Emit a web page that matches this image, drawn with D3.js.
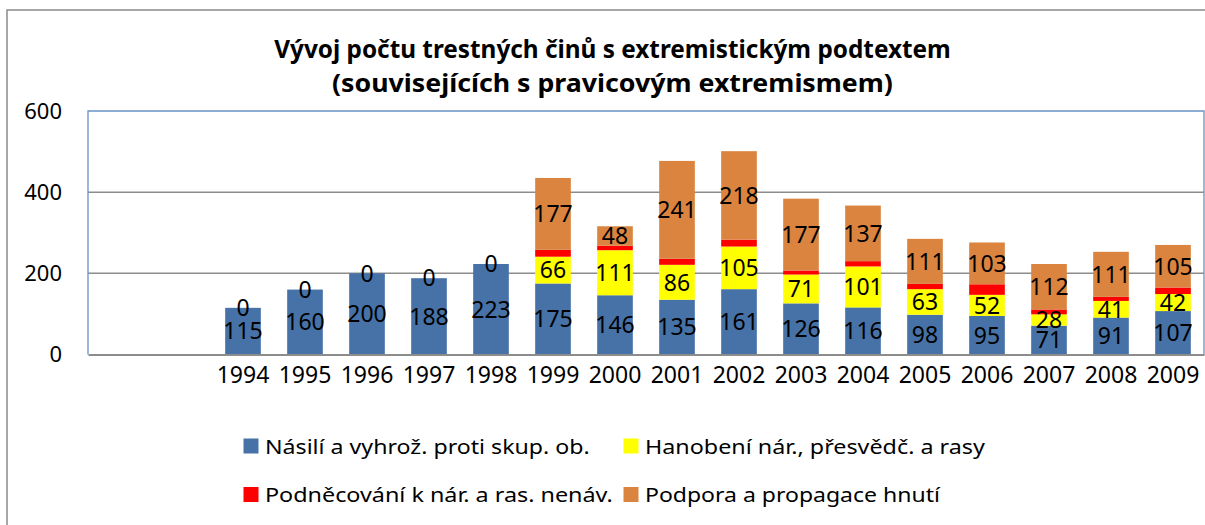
<!DOCTYPE html>
<html>
<head>
<meta charset="utf-8">
<script src="https://cdn.jsdelivr.net/npm/d3@7"></script>
<style>
  body { margin: 0; background: #fff; }
  text { font-family: "Noto Sans", "Open Sans", sans-serif; fill: #000; }
</style>
</head>
<body>
<div class="chart"></div>
<script>
// categories (two empty slots before 1994, as in the original)
const years = ["", "", "1994", "1995", "1996", "1997", "1998", "1999", "2000", "2001", "2002", "2003", "2004", "2005", "2006", "2007", "2008", "2009"]
// series values
const nasili = [null, null, 115, 160, 200, 188, 223, 175, 146, 135, 161, 126, 116, 98, 95, 71, 91, 107]
const hanobeni = [null, null, null, null, null, null, null, 66, 111, 86, 105, 71, 101, 63, 52, 28, 41, 42]
const podnecovani = [null, null, 0, 0, 0, 0, 0, 17, 11, 15, 17, 10, 13, 13, 26, 12, 10, 16]
const podpora = [null, null, 0, 0, 0, 0, 0, 177, 48, 241, 218, 177, 137, 111, 103, 112, 111, 105]
const yTicks = [0, 200, 400, 600]
const titleLines = ["Vývoj počtu trestných činů s extremistickým podtextem", "(souvisejících s pravicovým extremismem)"]

const series = [
  {key: "nasili", name: "Násilí a vyhrož. proti skup. ob.", values: nasili, color: "#4672a8", label: true},
  {key: "hanobeni", name: "Hanobení nár., přesvědč. a rasy", values: hanobeni, color: "#ffff00", label: true},
  {key: "podnecovani", name: "Podněcování k nár. a ras. nenáv.", values: podnecovani, color: "#ff0000", label: false},
  {key: "podpora", name: "Podpora a propagace hnutí", values: podpora, color: "#da8440", label: true}
]

var width = 1205, height = 525
var padding = {left: 88, right: 1, top: 111, bottom: 170.5}

var svg = d3.select(".chart").append("svg").attr("width", width).attr("height", height)

// squeeze a text horizontally so it spans the wanted width
function fitWidth(sel, widthOf) {
  sel.each(function(d, i) {
    let w = this.getComputedTextLength()
    let x = +this.getAttribute("x"), y = +this.getAttribute("y")
    let k = widthOf(d, i) / w
    d3.select(this).attr("transform", "translate(" + x + "," + y + ") scale(" + k + ",1) translate(" + (-x) + "," + (-y) + ")")
  })
}

// outer chart border
svg.append("rect")
  .attr("x", 7).attr("y", 10).attr("width", width).attr("height", height)
  .attr("fill", "none").attr("stroke", "#8a8a8a").attr("stroke-width", 1.5)

// title
svg.append("g").selectAll("text")
  .data(titleLines)
  .enter()
  .append("text")
  .attr("x", 612.5)
  .attr("y", function(d, i) { return 58 + i * 34 })
  .attr("text-anchor", "middle")
  .attr("font-size", 25)
  .attr("font-weight", "bold")
  .text(function(d) { return d })
  .call(fitWidth, function(d, i) { return i == 0 ? 677 : 561 })

var plotW = width - padding.left - padding.right
var plotH = height - padding.top - padding.bottom

var xScale = d3.scaleBand()
  .domain(d3.range(years.length))
  .range([0, plotW])
  .paddingInner(0.425)
  .paddingOuter(0.2125)

var yScale = d3.scaleLinear()
  .domain([0, 600])
  .range([plotH, 0])

var plot = svg.append("g")
  .attr("transform", "translate(" + padding.left + "," + padding.top + ")")

// gridlines
plot.append("g").selectAll("line")
  .data(yTicks.slice(1, -1))
  .enter()
  .append("line")
  .attr("x1", 0).attr("x2", plotW)
  .attr("y1", function(d) { return yScale(d) })
  .attr("y2", function(d) { return yScale(d) })
  .attr("stroke", "#8c8c8c").attr("stroke-width", 1.5)

// plot area border (left, top, right)
plot.append("path")
  .attr("d", "M0," + yScale(0) + "V" + yScale(600) + "H" + plotW + "V" + yScale(0))
  .attr("fill", "none").attr("stroke", "#6a92c6").attr("stroke-width", 1.3)

// y axis
var yAxis = plot.append("g")
  .call(d3.axisLeft(yScale).tickValues(yTicks).tickSize(0).tickPadding(26))
yAxis.select(".domain").remove()
yAxis.selectAll("text").attr("font-size", 22).attr("font-family", null)

// stacked data
var rows = years.map(function(y, i) {
  let row = {i: i}
  series.forEach(function(s) { row[s.key] = s.values[i] == null ? 0 : s.values[i] })
  return row
})
var stacked = d3.stack().keys(series.map(function(s) { return s.key }))(rows)

stacked.forEach(function(layer, k) {
  let s = series[k]
  plot.append("g")
    .selectAll("rect")
    .data(layer.filter(function(d) { return s.values[d.data.i] != null }))
    .enter()
    .append("rect")
    .attr("x", function(d) { return xScale(d.data.i) })
    .attr("width", xScale.bandwidth())
    .attr("y", function(d) { return yScale(d[1]) })
    .attr("height", function(d) { return yScale(d[0]) - yScale(d[1]) })
    .attr("fill", s.color)
})

// data labels
stacked.forEach(function(layer, k) {
  let s = series[k]
  if (!s.label) return
  plot.append("g")
    .selectAll("text")
    .data(layer.filter(function(d) { return s.values[d.data.i] != null }))
    .enter()
    .append("text")
    .attr("x", function(d) { return xScale(d.data.i) + xScale.bandwidth() / 2 })
    .attr("y", function(d) { return (yScale(d[0]) + yScale(d[1])) / 2 })
    .attr("dy", "0.36em")
    .attr("text-anchor", "middle")
    .attr("font-size", 23)
    .text(function(d) { return s.values[d.data.i] })
})

// x axis
var xAxis = plot.append("g")
  .attr("transform", "translate(0," + plotH + ")")
  .call(d3.axisBottom(xScale).tickSize(0).tickPadding(12).tickFormat(function(i) { return years[i] }))
xAxis.select(".domain").attr("stroke", "#8c8c8c").attr("stroke-width", 1.8)
xAxis.selectAll("text").attr("font-size", 23).attr("font-family", null)

// legend
var legendPos = [
  {x: 243.5, y: 453.5},
  {x: 623.5, y: 453.5},
  {x: 243.5, y: 502},
  {x: 623.5, y: 502}
]
var legendLen = [325, 340, 348, 295]
var legend = svg.append("g").selectAll("g")
  .data(series)
  .enter()
  .append("g")
  .attr("transform", function(d, i) { return "translate(" + legendPos[i].x + "," + legendPos[i].y + ")" })
legend.append("rect")
  .attr("x", 0).attr("y", -15).attr("width", 15).attr("height", 15)
  .attr("fill", function(d) { return d.color })
legend.append("text")
  .attr("x", 21.5)
  .attr("y", 0)
  .attr("font-size", 20)
  .text(function(d) { return d.name })
  .call(fitWidth, function(d, i) { return legendLen[i] })
</script>
</body>
</html>
